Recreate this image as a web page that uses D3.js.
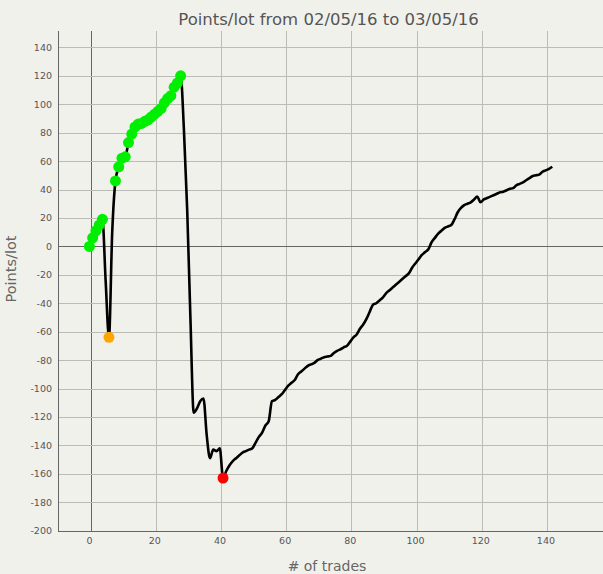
<!DOCTYPE html>
<html><head><meta charset="utf-8">
<script src="https://cdn.jsdelivr.net/npm/d3@7/dist/d3.min.js"></script>
<style>
html,body{margin:0;padding:0;background:#f1f1ec;}
svg{display:block;}
</style></head>
<body>
<svg id="chart" width="603" height="574"></svg>
<script>
const title = "Points/lot from 02/05/16 to 03/05/16";
const xTitle = "# of trades";
const yTitle = "Points/lot";
const xTicks = [0,20,40,60,80,100,120,140];
const yTicks = [-200,-180,-160,-140,-120,-100,-80,-60,-40,-20,0,20,40,60,80,100,120,140];
const values = [
  0,6,11,15,19,-25,-64,10,46,56,
  62,63,73,79,84,86,86.5,88,89,91,
  93,95,97,101,104,106,112,115,120,82,
  26,-51,-117,-114,-109,-107,-133,-149,-143,-144,
  -142,-163,-158,-154,-151,-149,-147,-145,-144,-143,
  -142,-138,-134,-131,-126,-123,-109,-108,-106,-104,
  -101,-98,-96,-94,-90,-88,-86,-84,-83,-82,
  -80,-79,-78,-77.5,-77,-75,-73.5,-72.5,-71,-70,
  -67,-64,-62,-58,-55,-51,-46,-41,-40,-38,
  -36,-33,-31,-29,-27,-25,-23,-21,-19,-15,
  -12,-9,-6,-4,-2,3,6,9,11,13,
  14,15,19,24,27,29,30,31,33,35,
  31,33,34,35,36,37,38,38.5,39.5,40.5,
  41,43,44,45,46.5,48,49.5,50,50.5,52.5,
  53.5,54.5,56
];
const orangeIdx = [6];
const redIdx = [41];

const svg = d3.select("#chart");
const x = d3.scaleLinear().domain([-10, 157.2]).range([58, 603]);
const y = d3.scaleLinear().domain([-200, 151.5]).range([530.7, 31]);
const px = v => Math.round(x(v)) + 0.5;
const py = v => Math.round(y(v)) + 0.5;

// grid
const g = svg.append("g");
g.selectAll("line.vg").data(xTicks).join("line")
  .attr("x1", d => px(d)).attr("x2", d => px(d))
  .attr("y1", 31).attr("y2", py(-200))
  .attr("stroke", d => d === 0 ? "#666" : "#bcbcb6").attr("stroke-width", 1);
g.selectAll("line.hg").data(yTicks.filter(d => d > -200)).join("line")
  .attr("x1", 58).attr("x2", 603)
  .attr("y1", d => py(d)).attr("y2", d => py(d))
  .attr("stroke", d => d === 0 ? "#666" : "#bcbcb6").attr("stroke-width", 1);

// axes lines
svg.append("line").attr("x1", 58.5).attr("x2", 58.5).attr("y1", 31).attr("y2", py(-200)).attr("stroke", "#666");
svg.append("line").attr("x1", 58).attr("x2", 603).attr("y1", py(-200)).attr("y2", py(-200)).attr("stroke", "#666");

// tick labels
const tickFont = "DejaVu Sans, Verdana, sans-serif";
svg.append("g").selectAll("text").data(yTicks).join("text")
  .attr("x", 52).attr("y", d => y(d) + 3.5)
  .attr("text-anchor", "end").attr("font-family", tickFont).attr("font-size", 9.5)
  .attr("fill", "#555").text(d => d);
svg.append("g").selectAll("text").data(xTicks).join("text")
  .attr("x", d => x(d) - 1).attr("y", 544)
  .attr("text-anchor", "middle").attr("font-family", tickFont).attr("font-size", 9.5)
  .attr("fill", "#555").text(d => d);

// titles
svg.append("text").attr("x", 328.5).attr("y", 25).attr("text-anchor", "middle")
  .attr("font-family", tickFont).attr("font-size", 16.5).attr("fill", "#555").text(title);
svg.append("text").attr("x", 327).attr("y", 570.5).attr("text-anchor", "middle")
  .attr("font-family", tickFont).attr("font-size", 14).attr("fill", "#666").text(xTitle);
svg.append("text").attr("transform", "translate(15.5,269) rotate(-90)").attr("text-anchor", "middle")
  .attr("font-family", tickFont).attr("font-size", 14.5).attr("fill", "#666").text(yTitle);

// line
const pts = values.map((v, i) => [i, v]);
const line = d3.line().x(d => x(d[0]) - 1.2).y(d => y(d[1])).curve(d3.curveMonotoneX);
svg.append("path").attr("d", line(pts)).attr("fill", "none")
  .attr("stroke", "#000").attr("stroke-width", 2.6).attr("stroke-linejoin", "round");

// markers: new highs (green), plus highlighted lows
let runMax = -Infinity;
const greenPts = [];
pts.forEach(p => { if (p[1] >= runMax) { runMax = p[1]; greenPts.push(p); } });
const dots = svg.append("g");
dots.selectAll("circle.g").data(greenPts).join("circle")
  .attr("cx", d => x(d[0]) - 1.2).attr("cy", d => y(d[1])).attr("r", 5.5).attr("fill", "#00ee00");
dots.selectAll("circle.o").data(orangeIdx.map(i => pts[i])).join("circle")
  .attr("cx", d => x(d[0]) - 1.2).attr("cy", d => y(d[1])).attr("r", 5.5).attr("fill", "#ffa500");
dots.selectAll("circle.r").data(redIdx.map(i => pts[i])).join("circle")
  .attr("cx", d => x(d[0]) - 1.2).attr("cy", d => y(d[1])).attr("r", 5.5).attr("fill", "#ff0000");
</script>
</body></html>
